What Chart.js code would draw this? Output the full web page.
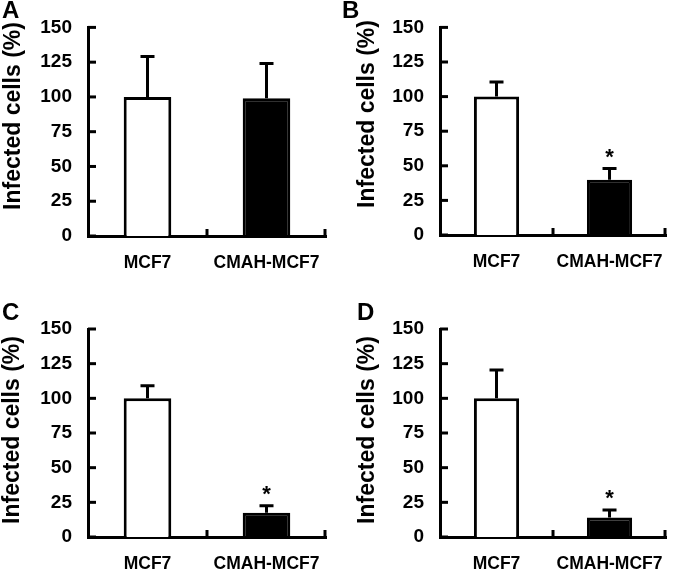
<!DOCTYPE html>
<html>
<head>
<meta charset="utf-8">
<script src="https://cdn.jsdelivr.net/npm/chart.js@4.4.1/dist/chart.umd.min.js"></script>
<style>
  html, body { margin: 0; padding: 0; background: #fff; overflow: hidden; }
  #page { position: relative; width: 680px; height: 571px; font-family: "Liberation Sans", Arial, sans-serif; }
  .panel { position: absolute; }
  .letter { position: absolute; font-weight: bold; font-size: 24px; line-height: 1; color: #000; }
  .ytitle { position: absolute; font-weight: bold; font-size: 23px; line-height: 1; color: #000;
            white-space: nowrap; transform: translate(-50%, -50%) rotate(-90deg); }
</style>
</head>
<body>
<div id="page"></div>
<script>
// data
const categories = ["MCF7", "CMAH-MCF7"];
const panelNames = ["A", "B", "C", "D"];
const yTickValues = [0, 25, 50, 75, 100, 125, 150];
const yTitle = "Infected cells (%)";

const meansA = [100, 99];
const errorsA = [29, 25];
const starsA = [false, false];

const meansB = [100, 40];
const errorsB = [10.5, 8];
const starsB = [false, true];

const meansC = [100, 17.5];
const errorsC = [9, 5];
const starsC = [false, true];

const meansD = [100, 14];
const errorsD = [20.5, 5.5];
const starsD = [false, true];

const barColors = ["#ffffff", "#000000"];

// where each panel sits on the page
const panels = [
  { name: panelNames[0], means: meansA, errors: errorsA, stars: starsA, left: 0, top: 0, w: 340, h: 285,
    area: { l: 88, r: 326, t: 26, b: 236 }, letter: [2, -2], title: [12, 116] },
  { name: panelNames[1], means: meansB, errors: errorsB, stars: starsB, left: 340, top: 0, w: 340, h: 285,
    area: { l: 440, r: 678, t: 26, b: 235 }, letter: [342, -2], title: [366, 114] },
  { name: panelNames[2], means: meansC, errors: errorsC, stars: starsC, left: 0, top: 290, w: 340, h: 281,
    area: { l: 88, r: 326, t: 329, b: 537 }, letter: [2, 300], title: [11, 430] },
  { name: panelNames[3], means: meansD, errors: errorsD, stars: starsD, left: 340, top: 290, w: 340, h: 281,
    area: { l: 440, r: 678, t: 329, b: 537 }, letter: [357, 300], title: [366, 430] }
];

const FONT = "'Liberation Sans', Arial, sans-serif";

// inward tick marks, error bars and asterisks
const extrasPlugin = {
  id: "extras",
  afterDatasetsDraw(chart, args, opts) {
    const ctx = chart.ctx;
    const x = chart.scales.x, y = chart.scales.y;
    const area = chart.chartArea;
    ctx.save();
    ctx.strokeStyle = "#000";
    ctx.lineWidth = 3;
    ctx.lineCap = "butt";

    // error bars (upper only)
    const meta = chart.getDatasetMeta(0);
    meta.data.forEach((bar, i) => {
      const yTop = y.getPixelForValue(opts.means[i] + opts.errors[i]);
      const yBar = y.getPixelForValue(opts.means[i]);
      ctx.beginPath();
      ctx.moveTo(bar.x, yBar);
      ctx.lineTo(bar.x, yTop);
      ctx.moveTo(bar.x - 7, yTop);
      ctx.lineTo(bar.x + 7, yTop);
      ctx.stroke();
      if (opts.stars[i]) {
        ctx.fillStyle = "#000";
        ctx.font = "bold 22px " + FONT;
        ctx.textAlign = "center";
        ctx.textBaseline = "alphabetic";
        ctx.fillText("*", bar.x, yTop - 5);
      }
    });

    // y ticks pointing into the plot
    y.ticks.forEach(t => {
      const py = y.getPixelForValue(t.value);
      ctx.beginPath();
      ctx.moveTo(area.left, py);
      ctx.lineTo(area.left + 8, py);
      ctx.stroke();
    });

    // x ticks at category boundaries, pointing up
    const mid = (x.getPixelForValue(0) + x.getPixelForValue(1)) / 2;
    [mid, area.right - 1].forEach(px => {
      ctx.beginPath();
      ctx.moveTo(px, area.bottom);
      ctx.lineTo(px, area.bottom - 7);
      ctx.stroke();
    });
    ctx.restore();
  }
};

const page = document.getElementById("page");

panels.forEach(p => {
  const holder = document.createElement("div");
  holder.className = "panel";
  holder.style.left = p.left + "px";
  holder.style.top = p.top + "px";
  holder.style.width = p.w + "px";
  holder.style.height = p.h + "px";
  const canvas = document.createElement("canvas");
  canvas.width = p.w;
  canvas.height = p.h;
  holder.appendChild(canvas);
  page.appendChild(holder);

  const letter = document.createElement("div");
  letter.className = "letter";
  letter.textContent = p.name;
  letter.style.left = p.letter[0] + "px";
  letter.style.top = p.letter[1] + "px";
  page.appendChild(letter);

  const title = document.createElement("div");
  title.className = "ytitle";
  title.textContent = yTitle;
  title.style.left = p.title[0] + "px";
  title.style.top = p.title[1] + "px";
  page.appendChild(title);

  const yAxisWidth = p.area.l - p.left;
  const xAxisHeight = p.top + p.h - p.area.b;

  new Chart(canvas.getContext("2d"), {
    type: "bar",
    data: {
      labels: categories,
      datasets: [{
        data: p.means,
        backgroundColor: barColors,
        borderColor: "#000",
        borderWidth: 3,
        barPercentage: 0.4,
        categoryPercentage: 1.0
      }]
    },
    options: {
      responsive: false,
      animation: false,
      layout: {
        padding: { left: 0, top: p.area.t - p.top, right: p.left + p.w - p.area.r, bottom: 0 }
      },
      plugins: {
        legend: { display: false },
        tooltip: { enabled: false },
        extras: { means: p.means, errors: p.errors, stars: p.stars }
      },
      scales: {
        x: {
          offset: true,
          grid: { display: false, drawTicks: false },
          border: { display: true, color: "#000", width: 3 },
          ticks: { color: "#000", padding: 17, font: { family: FONT, size: 17.5, weight: "bold" } },
          afterFit: s => { s.height = xAxisHeight; }
        },
        y: {
          min: yTickValues[0],
          max: yTickValues[yTickValues.length - 1],
          afterBuildTicks: s => { s.ticks = yTickValues.map(v => ({ value: v })); },
          grid: { display: false, drawTicks: false },
          border: { display: true, color: "#000", width: 3 },
          ticks: { color: "#000", padding: 16, font: { family: FONT, size: 19, weight: "bold" } },
          afterFit: s => { s.width = yAxisWidth; }
        }
      }
    },
    plugins: [extrasPlugin]
  });
});
</script>
</body>
</html>
